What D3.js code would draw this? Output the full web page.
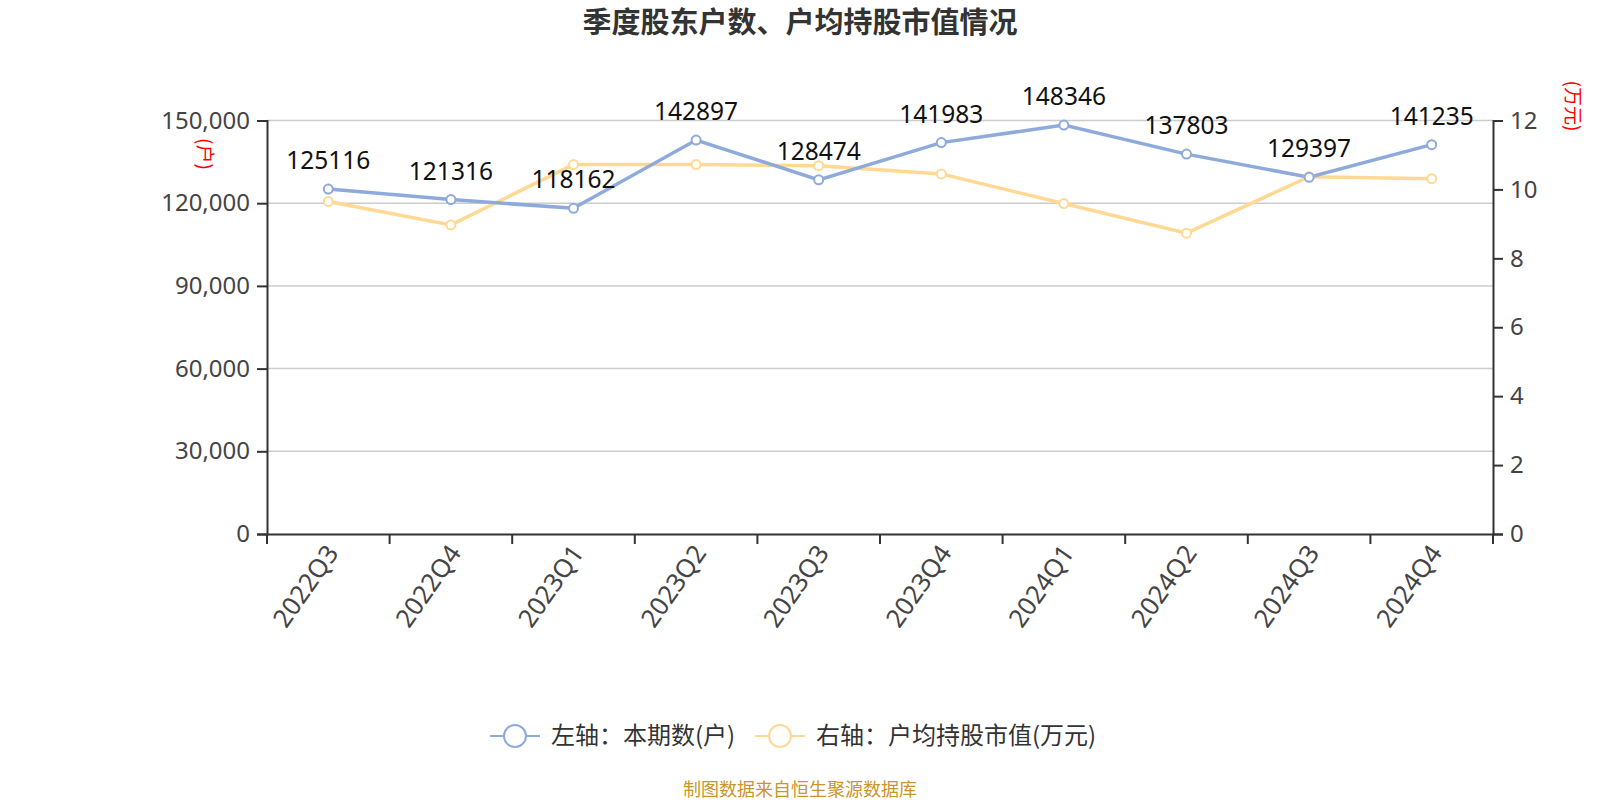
<!DOCTYPE html>
<html><head><meta charset="utf-8">
<script src="https://cdn.jsdelivr.net/npm/d3@7"></script>
<style>body{margin:0;background:#fff;}svg{display:block;font-family:"Noto Sans CJK SC","Noto Sans",sans-serif;}</style>
</head><body>
<svg id="c" width="1600" height="800"></svg>
<script>
const categories = ["2022Q3","2022Q4","2023Q1","2023Q2","2023Q3","2023Q4","2024Q1","2024Q2","2024Q3","2024Q4"];
const holders = [125116,121316,118162,142897,128474,141983,148346,137803,129397,141235];
const avgValue = [9.65,8.97,10.72,10.72,10.69,10.45,9.59,8.73,10.37,10.31];
const leftTicks = [0,30000,60000,90000,120000,150000];
const rightTicks = [0,2,4,6,8,10,12];
const seriesNames = ["左轴：本期数(户)","右轴：户均持股市值(万元)"];
const colors = ["#8eaadb","#ffd993"];

const svg = d3.select("#c");
const L = 267, R = 1493, T = 120.5, B = 534;
const x = d3.scaleBand().domain(categories).range([L, R]);
const yL = d3.scaleLinear().domain([0,150000]).range([B, T]);
const yR = d3.scaleLinear().domain([0,12]).range([B, T]);
const cx = d => x(d) + x.bandwidth()/2;
const numFont = "'Noto Sans',sans-serif";

svg.append("text").attr("x",800).attr("y",23).attr("dy","0.35em").attr("text-anchor","middle")
  .attr("font-size",29).attr("font-weight","bold").attr("fill","#333").text("季度股东户数、户均持股市值情况");

// grid
svg.append("g").selectAll("line").data(leftTicks.filter(d=>d>0)).join("line")
  .attr("x1",L).attr("x2",R).attr("y1",d=>yL(d)).attr("y2",d=>yL(d))
  .attr("stroke","#ccc").attr("stroke-width",1.5);

const axL = svg.append("g").attr("transform",`translate(${L},0)`)
  .call(d3.axisLeft(yL).tickValues(leftTicks).tickFormat(d3.format(",")).tickSize(10).tickPadding(7));
const axR = svg.append("g").attr("transform",`translate(${R},0)`)
  .call(d3.axisRight(yR).tickValues(rightTicks).tickSize(10).tickPadding(7));
const axB = svg.append("g").attr("transform",`translate(0,${B})`)
  .call(d3.axisBottom(x).tickSize(0).tickFormat(""));
[axL,axR,axB].forEach(a=>{
  a.select(".domain").attr("stroke","#333").attr("stroke-width",2);
  a.selectAll(".tick line").attr("stroke","#333").attr("stroke-width",2);
  a.selectAll(".tick text").attr("fill","#444").attr("font-size",24).attr("font-family",numFont);
});
// bottom boundary ticks
const bounds = categories.map(c=>x(c)).concat([R]);
svg.append("g").selectAll("line").data(bounds).join("line")
  .attr("x1",d=>d).attr("x2",d=>d).attr("y1",B).attr("y2",B+10).attr("stroke","#333").attr("stroke-width",2);
// x labels
svg.append("g").selectAll("text").data(categories).join("text")
  .attr("transform",d=>`translate(${cx(d)+4},${B+14}) rotate(-55)`)
  .attr("text-anchor","end").attr("dy","0.35em").attr("font-size",25.5).attr("fill","#444")
  .attr("font-family",numFont).text(d=>d);

// unit labels
svg.append("text").attr("transform","translate(198,154) rotate(90)").attr("text-anchor","middle")
  .attr("font-size",19).attr("fill","red").text("(户)");
svg.append("text").attr("transform","translate(1566,106) rotate(90)").attr("text-anchor","middle")
  .attr("font-size",19).attr("fill","red").text("(万元)");

// lines
const line1 = d3.line().x((d,i)=>cx(categories[i])).y(d=>yL(d));
const line2 = d3.line().x((d,i)=>cx(categories[i])).y(d=>yR(d));
svg.append("path").attr("d",line2(avgValue)).attr("fill","none").attr("stroke",colors[1]).attr("stroke-width",3.5);
svg.append("path").attr("d",line1(holders)).attr("fill","none").attr("stroke",colors[0]).attr("stroke-width",3.5);
svg.append("g").selectAll("circle").data(avgValue).join("circle")
  .attr("cx",(d,i)=>cx(categories[i])).attr("cy",d=>yR(d)).attr("r",4.5)
  .attr("fill","#fff").attr("stroke",colors[1]).attr("stroke-width",2);
svg.append("g").selectAll("circle").data(holders).join("circle")
  .attr("cx",(d,i)=>cx(categories[i])).attr("cy",d=>yL(d)).attr("r",4.5)
  .attr("fill","#fff").attr("stroke",colors[0]).attr("stroke-width",2);
svg.append("g").selectAll("text").data(holders).join("text")
  .attr("x",(d,i)=>cx(categories[i])).attr("y",d=>yL(d)-20)
  .attr("text-anchor","middle").attr("font-size",24.5).attr("fill","#111")
  .attr("font-family",numFont).text(d=>d);

// legend
const lg = svg.append("g");
const items = [{x:490,n:seriesNames[0],c:colors[0]},{x:755,n:seriesNames[1],c:colors[1]}];
items.forEach(it=>{
  lg.append("line").attr("x1",it.x).attr("x2",it.x+50).attr("y1",736).attr("y2",736).attr("stroke",it.c).attr("stroke-width",2);
  lg.append("circle").attr("cx",it.x+25).attr("cy",736).attr("r",11).attr("fill","#fff").attr("stroke",it.c).attr("stroke-width",2);
  lg.append("text").attr("x",it.x+61).attr("y",736).attr("dy","0.35em").attr("font-size",24).attr("fill","#333").text(it.n);
});

svg.append("text").attr("x",800).attr("y",796).attr("text-anchor","middle").attr("font-size",18)
  .attr("fill","#c9952c").text("制图数据来自恒生聚源数据库");
</script>
</body></html>
